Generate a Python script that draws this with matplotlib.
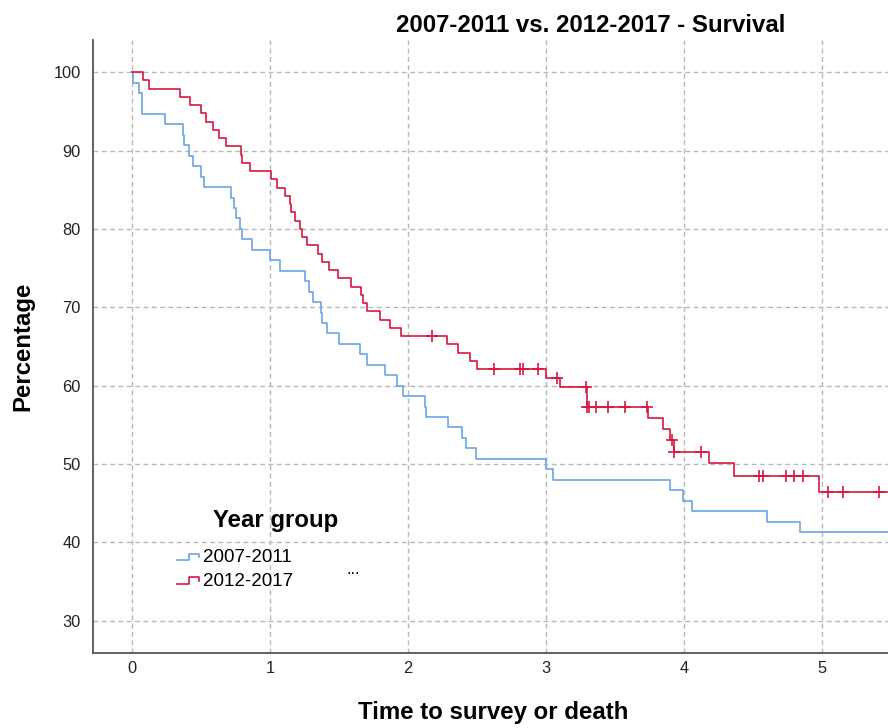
import numpy as np
import matplotlib
matplotlib.use("Agg")
import matplotlib.pyplot as plt
from matplotlib.lines import Line2D
from matplotlib.legend_handler import HandlerBase

plt.rcParams['font.family'] = ['Liberation Sans', 'DejaVu Sans']

# Kaplan-Meier steps (time in years, survival %)
blue_times = [0, 0.005, 0.05, 0.07, 0.24, 0.37, 0.38, 0.41, 0.44, 0.50, 0.52, 0.72, 0.74, 0.75,
              0.78, 0.80, 0.87, 1.00, 1.07, 1.25, 1.285, 1.31, 1.37, 1.38, 1.415, 1.50, 1.65,
              1.70, 1.83, 1.92, 1.96, 2.12, 2.13, 2.29, 2.39, 2.42, 2.49, 3.00, 3.05, 3.90,
              3.995, 4.06, 4.60, 4.84, 5.55]
blue_surv = [100, 98.67, 97.33, 94.67, 93.33, 92.0, 90.67, 89.33, 88.0, 86.67, 85.33, 84.0,
             82.67, 81.33, 80.0, 78.67, 77.33, 76.0, 74.67, 73.33, 72.0, 70.67, 69.33, 68.0,
             66.67, 65.33, 64.0, 62.67, 61.33, 60.0, 58.67, 57.33, 56.0, 54.67, 53.33, 52.0,
             50.67, 49.33, 48.0, 46.67, 45.33, 44.0, 42.67, 41.33, 41.33]

red_times = [0, 0.077, 0.12, 0.35, 0.42, 0.50, 0.535, 0.59, 0.63, 0.68, 0.79, 0.80, 0.855,
             1.005, 1.05, 1.11, 1.145, 1.15, 1.18, 1.22, 1.23, 1.27, 1.35, 1.38, 1.43, 1.49,
             1.59, 1.66, 1.67, 1.70, 1.80, 1.87, 1.95, 2.28, 2.36, 2.45, 2.50, 3.00, 3.10,
             3.30, 3.74, 3.85, 3.90, 3.93, 4.18, 4.36, 4.98, 5.55]
red_surv = [100, 98.95, 97.89, 96.84, 95.79, 94.74, 93.68, 92.63, 91.58, 90.53, 89.47, 88.42,
            87.37, 86.32, 85.26, 84.21, 83.16, 82.11, 81.05, 80.0, 78.95, 77.89, 76.84, 75.79,
            74.74, 73.68, 72.63, 71.58, 70.53, 69.47, 68.42, 67.37, 66.32, 65.3, 64.2, 63.2,
            62.1, 61.0, 59.8, 57.3, 55.9, 54.5, 53.1, 51.6, 50.1, 48.5, 46.5, 46.5]
# censored cases (2012-2017 group only)
red_censor = [2.17, 2.62, 2.81, 2.83, 2.94, 3.08, 3.29, 3.30, 3.31, 3.36, 3.45, 3.57, 3.73,
              3.91, 3.93, 4.12, 4.54, 4.57, 4.74, 4.80, 4.86, 5.04, 5.15, 5.41]

group_labels = ["2007-2011", "2012-2017"]
x_ticks = [0, 1, 2, 3, 4, 5]
y_ticks = [30, 40, 50, 60, 70, 80, 90, 100]

BLUE = "#6aa4e6"
RED = "#d8163f"
BIG = 17.3  # bold heading size


class StepHandler(HandlerBase):
    """little step glyph for the legend, like SPSS draws it"""
    def create_artists(self, legend, orig_handle, xdescent, ydescent, width, height, fontsize, trans):
        x0 = -xdescent
        xs = [x0, x0 + 0.55 * width, x0 + 0.55 * width, x0 + width, x0 + width]
        ys = [0.15 * height, 0.15 * height, 0.65 * height, 0.65 * height, 0.4 * height]
        ln = Line2D(xs, ys, color=orig_handle.get_color(), lw=orig_handle.get_linewidth(),
                    transform=trans)
        return [ln]


fig = plt.figure(figsize=(8.88, 7.28), dpi=100)
ax = fig.add_axes([93 / 888, 1 - 653 / 728, 1 - 93 / 888, (653 - 40) / 728])

h1, = ax.step(blue_times, blue_surv, where='post', color=BLUE, lw=1.2)
h2, = ax.step(red_times, red_surv, where='post', color=RED, lw=1.2)

# censor ticks sit on the step level at that time
idx = np.searchsorted(red_times, red_censor, side='right') - 1
ax.plot(red_censor, np.array(red_surv)[idx], ls='none', marker='+', ms=8.5, mew=1.2, color=RED)

ax.set_xlim(-0.283, 5.478)
ax.set_ylim(25.9, 104.1)
ax.set_xticks(x_ticks)
ax.set_yticks(y_ticks)
ax.tick_params(length=0, labelsize=11.8, colors='#222222')
ax.tick_params(axis='y', pad=9)
ax.tick_params(axis='x', pad=6)
ax.grid(True, color='#b8b8b8', ls=(0, (3.5, 2.5)), lw=1)
ax.set_axisbelow(True)
for s in ['top', 'right']:
    ax.spines[s].set_visible(False)
for s in ['left', 'bottom']:
    ax.spines[s].set_color('#555555')
    ax.spines[s].set_linewidth(1.3)

fig.text(591 / 888, 1 - 25 / 728, "2007-2011 vs. 2012-2017 - Survival", ha='center', va='center',
         fontsize=BIG, fontweight='bold')
fig.text(23 / 888, 1 - 346 / 728, "Percentage", rotation=90, ha='center', va='center',
         fontsize=BIG, fontweight='bold')
fig.text(493 / 888, 1 - 713 / 728, "Time to survey or death", ha='center', va='center',
         fontsize=BIG, fontweight='bold')

# legend drawn in two parts: bold title, then the entries
fig.text(276 / 888, 1 - 520 / 728, "Year group", ha='center', va='center',
         fontsize=BIG, fontweight='bold')
fig.legend([h1, h2], group_labels, loc='upper left', bbox_to_anchor=(177 / 888, 1 - 549 / 728),
           frameon=False, fontsize=13.5, handlelength=1.15, handletextpad=0.25,
           labelspacing=0.36, borderpad=0, borderaxespad=0,
           handler_map={Line2D: StepHandler()})
fig.text(353 / 888, 1 - 569 / 728, "...", ha='center', va='center', fontsize=12)

fig.savefig("out.png", dpi=100)
